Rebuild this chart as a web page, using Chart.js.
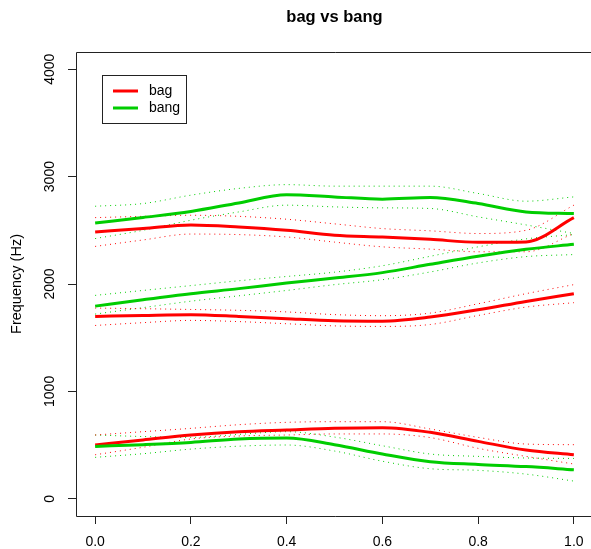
<!DOCTYPE html>
<html>
<head>
<meta charset="utf-8">
<script src="https://cdn.jsdelivr.net/npm/chart.js@4.4.1/dist/chart.umd.min.js"></script>
<style>
  html, body { margin: 0; padding: 0; background: #fff; overflow: hidden; }
  #wrap { width: 591px; height: 549px; overflow: hidden; }
</style>
</head>
<body>
<div id="wrap"><canvas id="chart" width="640" height="549"></canvas></div>
<script>
// 시간축 (정규화 0..1)
const xs = [0, 0.1, 0.2, 0.3, 0.4, 0.5, 0.6, 0.7, 0.8, 0.9, 1.0];
const xTicks = [0, 0.2, 0.4, 0.6, 0.8, 1.0];
const yTicks = [0, 1000, 2000, 3000, 4000];
const legendLabels = ['bag', 'bang'];
const titleText = 'bag vs bang';

// bag (빨강) F1..F3 + 신뢰구간
const bagF1   = [501, 548, 594, 625, 641, 656, 662, 619, 535, 454, 410];
const bagF1Hi = [594, 625, 656, 690, 712, 718, 718, 650, 572, 510, 504];
const bagF1Lo = [410, 480, 557, 585, 594, 604, 604, 570, 470, 395, 324];
const bagF2   = [1698, 1707, 1714, 1698, 1677, 1658, 1654, 1692, 1760, 1838, 1910];
const bagF2Hi = [1776, 1770, 1763, 1755, 1740, 1715, 1705, 1729, 1816, 1910, 1994];
const bagF2Lo = [1614, 1640, 1661, 1650, 1630, 1610, 1605, 1623, 1707, 1785, 1826];
const bagF3   = [2485, 2516, 2550, 2531, 2500, 2454, 2438, 2416, 2388, 2392, 2618];
const bagF3Hi = [2618, 2630, 2640, 2630, 2603, 2560, 2516, 2495, 2470, 2500, 2734];
const bagF3Lo = [2350, 2410, 2465, 2460, 2438, 2390, 2346, 2325, 2300, 2300, 2470];

// bang (초록)
const bangF1   = [488, 504, 525, 557, 566, 504, 417, 345, 320, 300, 271];
const bangF1Hi = [594, 580, 572, 600, 625, 575, 494, 417, 395, 380, 376];
const bangF1Lo = [386, 420, 463, 490, 501, 445, 350, 280, 265, 230, 165];
const bangF2   = [1794, 1854, 1910, 1957, 2009, 2055, 2106, 2183, 2258, 2323, 2370];
const bangF2Hi = [1894, 1940, 1985, 2030, 2070, 2110, 2170, 2258, 2346, 2420, 2460];
const bangF2Lo = [1720, 1780, 1840, 1890, 1940, 1994, 2040, 2112, 2196, 2255, 2274];
const bangF3   = [2568, 2619, 2675, 2755, 2830, 2811, 2790, 2805, 2749, 2671, 2656];
const bangF3Hi = [2724, 2749, 2827, 2890, 2925, 2911, 2911, 2911, 2843, 2771, 2811];
const bangF3Lo = [2423, 2500, 2594, 2671, 2734, 2718, 2709, 2703, 2625, 2550, 2470];

const RED = '#ff0000', GREEN = '#00cd00';
const FONT = '14px "Liberation Sans", Arial, Helvetica, sans-serif';

const pts = ys => ys.map((y, i) => ({ x: xs[i], y }));
const line = (label, ys, color, order) => ({
  label, data: pts(ys), borderColor: color, borderWidth: 3,
  pointRadius: 0, cubicInterpolationMode: 'monotone', order
});
const band = (ys, color) => ({
  data: pts(ys), borderColor: color, borderWidth: 1, borderDash: [1, 4],
  pointRadius: 0, cubicInterpolationMode: 'monotone', order: 5
});

const datasets = [
  line('bang', bangF1, GREEN, 0), line('bang', bangF2, GREEN, 0), line('bang', bangF3, GREEN, 0),
  line('bag', bagF1, RED, 1), line('bag', bagF2, RED, 1), line('bag', bagF3, RED, 1),
  band(bagF1Hi, RED), band(bagF1Lo, RED), band(bagF2Hi, RED), band(bagF2Lo, RED),
  band(bagF3Hi, RED), band(bagF3Lo, RED),
  band(bangF1Hi, GREEN), band(bangF1Lo, GREEN), band(bangF2Hi, GREEN), band(bangF2Lo, GREEN),
  band(bangF3Hi, GREEN), band(bangF3Lo, GREEN)
];

// 박스(오른쪽 변은 화면 밖), 제목, 세로 눈금 글자, 범례
const frame = {
  id: 'frame',
  afterDraw(chart) {
    const { ctx, chartArea: a, scales: { y } } = chart;
    const L = Math.round(a.left) + 0.5, T = Math.round(a.top) + 0.5, B = Math.round(a.bottom) + 0.5;
    ctx.save();
    ctx.strokeStyle = '#222'; ctx.lineWidth = 1;
    ctx.beginPath();
    ctx.moveTo(a.right + 2, T); ctx.lineTo(L, T); ctx.lineTo(L, B); ctx.lineTo(a.right + 2, B);
    ctx.stroke();

    ctx.fillStyle = '#000';
    ctx.font = 'bold 16.5px "Liberation Sans", Arial, Helvetica, sans-serif';
    ctx.textAlign = 'center'; ctx.textBaseline = 'middle';
    ctx.fillText(titleText, (a.left + a.right) / 2, 17);

    ctx.font = FONT;
    y.ticks.forEach(t => {
      ctx.save();
      ctx.translate(a.left - 26, y.getPixelForValue(t.value));
      ctx.rotate(-Math.PI / 2);
      ctx.fillText(String(t.value), 0, 0);
      ctx.restore();
    });

    const lx = Math.round(a.left) + 26, ly = Math.round(a.top) + 23;
    ctx.strokeStyle = '#222'; ctx.lineWidth = 1;
    ctx.strokeRect(lx + 0.5, ly + 0.5, 84, 48);
    ctx.textAlign = 'left';
    [RED, GREEN].forEach((c, i) => {
      const yy = ly + 16 + i * 17;
      ctx.strokeStyle = c; ctx.lineWidth = 3;
      ctx.beginPath(); ctx.moveTo(lx + 11, yy); ctx.lineTo(lx + 36, yy); ctx.stroke();
      ctx.fillStyle = '#000';
      ctx.fillText(legendLabels[i], lx + 47, yy);
    });
    ctx.restore();
  }
};

new Chart(document.getElementById('chart'), {
  type: 'line',
  data: { datasets },
  plugins: [frame],
  options: {
    responsive: false, animation: false,
    layout: { padding: { top: 52, right: 47, left: 0, bottom: 0 } },
    plugins: { legend: { display: false }, tooltip: { enabled: false }, title: { display: false } },
    scales: {
      x: {
        type: 'linear', min: -0.04, max: 1.04,
        afterBuildTicks: s => { s.ticks = xTicks.map(v => ({ value: v })); },
        afterFit: s => { s.height = 33; },
        grid: { drawOnChartArea: false, drawTicks: true, tickLength: 8, color: '#222' },
        border: { display: false },
        ticks: { color: '#000', font: { family: '"Liberation Sans", Arial', size: 14 }, padding: 10,
                 maxRotation: 0, callback: v => Number(v).toFixed(1) }
      },
      y: {
        type: 'linear', min: -160, max: 4160,
        afterBuildTicks: s => { s.ticks = yTicks.map(v => ({ value: v })); },
        afterFit: s => { s.width = 76; },
        grid: { drawOnChartArea: false, drawTicks: true, tickLength: 8, color: '#222' },
        border: { display: false },
        ticks: { display: false },
        title: { display: true, text: 'Frequency (Hz)', color: '#000',
                 font: { family: '"Liberation Sans", Arial', size: 14.5 }, padding: { top: 8, bottom: 0 } }
      }
    }
  }
});
</script>
</body>
</html>
